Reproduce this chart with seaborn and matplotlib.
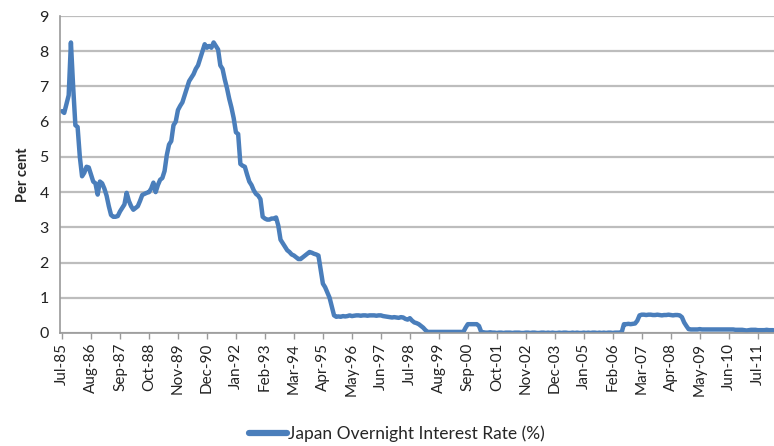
import matplotlib
matplotlib.use("Agg")
import matplotlib.pyplot as plt
import seaborn as sns
import pandas as pd

# Monthly overnight call rate, Jul-1985 onwards (per cent)
rate_1985_1990 = [
    6.30, 6.25, 6.50, 6.75, 8.25, 7.00, 5.90, 5.85, 5.00, 4.45,
    4.55, 4.72, 4.70, 4.50, 4.30, 4.25, 3.93, 4.30, 4.25, 4.10,
    3.90, 3.60, 3.35, 3.30, 3.30, 3.32, 3.45, 3.55, 3.65, 3.98,
    3.75, 3.60, 3.50, 3.55, 3.60, 3.75, 3.92, 3.95, 3.98, 4.00,
    4.10, 4.27, 4.00, 4.20, 4.35, 4.40, 4.60, 5.05, 5.35, 5.45,
    5.90, 6.00, 6.33, 6.45, 6.55, 6.75, 6.95, 7.15, 7.25, 7.35,
]
rate_1990_1995 = [
    7.50, 7.60, 7.80, 8.00, 8.20, 8.10, 8.15, 8.10, 8.25, 8.15,
    8.05, 7.60, 7.50, 7.20, 6.95, 6.65, 6.40, 6.10, 5.70, 5.65,
    4.80, 4.75, 4.72, 4.50, 4.30, 4.20, 4.05, 3.95, 3.90, 3.80,
    3.30, 3.25, 3.22, 3.22, 3.25, 3.25, 3.28, 3.05, 2.65, 2.55,
    2.45, 2.35, 2.30, 2.23, 2.20, 2.15, 2.10, 2.10, 2.15, 2.20,
    2.25, 2.30, 2.28, 2.25, 2.23, 2.20, 1.80, 1.40, 1.30, 1.15,
]
rate_1995_2000 = [
    1.00, 0.75, 0.50, 0.46, 0.47, 0.46, 0.48, 0.47, 0.48, 0.50,
    0.48, 0.49, 0.50, 0.50, 0.49, 0.50, 0.50, 0.49, 0.50, 0.50,
    0.50, 0.49, 0.50, 0.50, 0.48, 0.47, 0.46, 0.45, 0.44, 0.45,
    0.44, 0.43, 0.45, 0.44, 0.40, 0.38, 0.42, 0.35, 0.30, 0.28,
    0.25, 0.20, 0.15, 0.08, 0.03, 0.03, 0.03, 0.03, 0.03, 0.03,
    0.03, 0.03, 0.03, 0.03, 0.03, 0.03, 0.03, 0.03, 0.03, 0.03,
]
rate_2000_2006 = [
    0.03, 0.15, 0.25, 0.25, 0.25, 0.25, 0.25, 0.20, 0.03, 0.02,
    0.01, 0.01, 0.02, 0.01, 0.01, 0.00, 0.01, 0.01, 0.00, 0.01,
    0.01, 0.01, 0.00, 0.01, 0.01, 0.01, 0.00, 0.00, 0.01, 0.01,
    0.00, 0.01, 0.01, 0.00, 0.00, 0.01, 0.01, 0.00, 0.01, 0.00,
    0.01, 0.00, 0.00, 0.01, 0.00, 0.01, 0.01, 0.00, 0.00, 0.01,
    0.00, 0.01, 0.00, 0.00, 0.01, 0.00, 0.01, 0.00, 0.01, 0.01,
    0.00, 0.01, 0.00, 0.01, 0.00, 0.01, 0.01, 0.00, 0.01, 0.01,
]
rate_2006_2012 = [
    0.01, 0.02, 0.25, 0.25, 0.26, 0.25, 0.26, 0.27, 0.35, 0.50,
    0.52, 0.52, 0.51, 0.52, 0.52, 0.51, 0.51, 0.52, 0.51, 0.50,
    0.51, 0.51, 0.52, 0.51, 0.50, 0.51, 0.51, 0.50, 0.45, 0.30,
    0.20, 0.11, 0.10, 0.10, 0.10, 0.10, 0.11, 0.10, 0.10, 0.10,
    0.10, 0.10, 0.10, 0.10, 0.10, 0.10, 0.10, 0.10, 0.10, 0.10,
    0.10, 0.10, 0.09, 0.09, 0.09, 0.09, 0.08, 0.07, 0.08, 0.09,
    0.09, 0.09, 0.08, 0.08, 0.08, 0.08, 0.09, 0.08, 0.08, 0.08,
]

rates = rate_1985_1990 + rate_1990_1995 + rate_1995_2000 + rate_2000_2006 + rate_2006_2012
months = pd.date_range("1985-07-01", periods=len(rates), freq="MS")
series_name = "Japan Overnight Interest Rate (%)"
y_label = "Per cent"
y_ticks = [0, 1, 2, 3, 4, 5, 6, 7, 8, 9]
label_step = 13

df = pd.DataFrame({"idx": range(len(rates)), "rate": rates, "series": series_name})

sns.set_style("white")
plt.rcParams["font.family"] = ["Lato", "DejaVu Sans"]

fig = plt.figure(figsize=(7.74, 4.46), dpi=100)
ax = fig.add_axes([0.0775, 0.2534, 0.9225, 0.7106])

line_color = "#4A7EBB"
grid_color = "#BDBDBD"

sns.lineplot(data=df, x="idx", y="rate", hue="series", palette=[line_color],
             linewidth=3.2, ax=ax, legend=True)

ax.set_ylim(0, 9)
ax.set_xlim(-0.9, 319.3)
ax.set_yticks(y_ticks)
ax.yaxis.grid(True, color=grid_color, linewidth=1.6)
ax.xaxis.grid(False)
ax.set_axisbelow(True)

tick_pos = list(range(0, len(rates), label_step))
ax.set_xticks(tick_pos)
ax.set_xticklabels([months[i].strftime("%b-%y") for i in tick_pos], rotation=90,
                   fontsize=11, color="#222222")
ax.tick_params(axis="y", labelsize=11.5, labelcolor="#222222", length=4,
               color="#9A9A9A", width=1, pad=4)
ax.tick_params(axis="x", length=4, color="#9A9A9A", width=1, pad=3, bottom=True)

for side in ["top", "right"]:
    ax.spines[side].set_visible(False)
for side in ["left", "bottom"]:
    ax.spines[side].set_color("#9A9A9A")
    ax.spines[side].set_linewidth(1.2)

ax.set_xlabel("")
ax.set_ylabel(y_label, fontsize=10.5, fontweight="bold", labelpad=7)

handles, labels = ax.get_legend_handles_labels()
ax.legend_.remove()
for h in handles:
    h.set_linewidth(4.5)
fig.legend(handles, labels, loc="center", bbox_to_anchor=(0.513, 0.027),
           frameon=False, handlelength=2.2, handletextpad=0.05, fontsize=12.5)

fig.savefig("out.png", dpi=100)
